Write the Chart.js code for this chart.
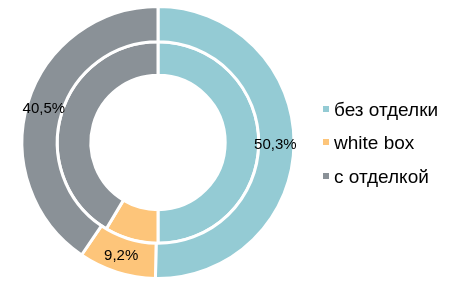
<!DOCTYPE html>
<html>
<head>
<meta charset="utf-8">
<script src="https://cdn.jsdelivr.net/npm/chart.js@4"></script>
<style>
html,body{margin:0;padding:0;background:#fff;}
#wrap{width:461px;height:283px;}
</style>
</head>
<body>
<div id="wrap"><canvas id="donut" width="461" height="283"></canvas></div>
<script>
const categories = ["без отделки", "white box", "с отделкой"];
const outerValues = [50.3, 9.2, 40.5];
const innerValues = [50.0, 8.6, 41.4];
const outerLabels = ["50,3%", "9,2%", "40,5%"];
const colors = ["#94CBD4", "#FDC57A", "#8A9197"];

// value labels on the outer ring
const ringLabels = {
  id: "ringLabels",
  afterDatasetsDraw(chart) {
    const ctx = chart.ctx;
    const arcs = chart.getDatasetMeta(0).data;
    ctx.save();
    ctx.font = "15px 'Liberation Sans', Arial, sans-serif";
    ctx.fillStyle = "#000";
    ctx.textAlign = "center";
    ctx.textBaseline = "middle";
    arcs.forEach((arc, i) => {
      const p = arc.tooltipPosition();
      ctx.fillText(outerLabels[i], p.x - 1, p.y + 1);
    });
    ctx.restore();
  }
};

// legend on the right
const sideLegend = {
  id: "sideLegend",
  afterDraw(chart) {
    const ctx = chart.ctx;
    ctx.save();
    ctx.font = "19px 'Liberation Sans', Arial, sans-serif";
    ctx.textBaseline = "alphabetic";
    categories.forEach((c, i) => {
      const base = 115.7 + i * 33.4;
      ctx.fillStyle = colors[i];
      ctx.fillRect(323, Math.round(base - 9.7), 6, 6);
      ctx.fillStyle = "#000";
      ctx.fillText(c, 334, base);
    });
    ctx.restore();
  }
};

new Chart(document.getElementById("donut"), {
  type: "doughnut",
  data: {
    labels: categories,
    datasets: [
      {
        data: outerValues,
        backgroundColor: colors,
        borderColor: "#fff",
        borderWidth: 3,
        hoverOffset: 0,
        weight: 1.05
      },
      {
        data: innerValues,
        backgroundColor: colors,
        borderColor: "#fff",
        borderWidth: 3,
        hoverOffset: 0,
        weight: 1
      }
    ]
  },
  options: {
    responsive: false,
    animation: false,
    radius: 136,
    cutout: "49.4%",
    layout: { padding: { left: 22, right: 167, top: 6, bottom: 4 } },
    plugins: {
      legend: { display: false },
      tooltip: { enabled: false }
    }
  },
  plugins: [ringLabels, sideLegend]
});
</script>
</body>
</html>
